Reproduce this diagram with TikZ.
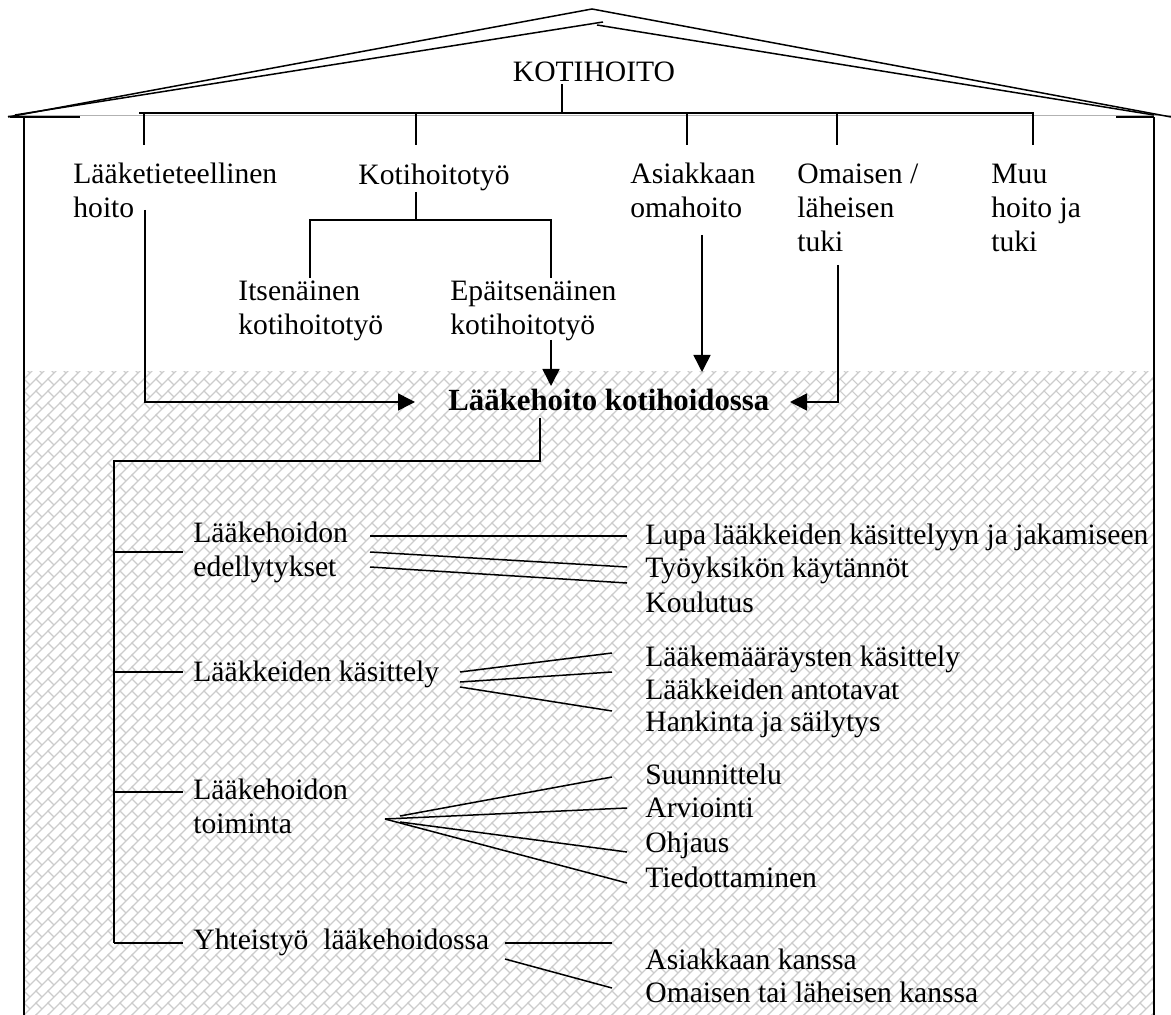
\documentclass[tikz,border=0pt]{standalone}
\usepackage{fontspec}
\setmainfont{Liberation Serif}
\usetikzlibrary{arrows.meta,calc,patterns}
\pgfdeclarepatternformonly{diagbrick}{\pgfqpoint{-0.5pt}{-0.5pt}}{\pgfqpoint{6.5pt}{6.5pt}}{\pgfqpoint{6pt}{6pt}}{%
\pgfsetlinewidth{0.55pt}
\pgfpathmoveto{\pgfqpoint{-0.5pt}{-0.5pt}}\pgfpathlineto{\pgfqpoint{6.5pt}{6.5pt}}
\pgfpathmoveto{\pgfqpoint{3pt}{3pt}}\pgfpathlineto{\pgfqpoint{0pt}{6pt}}
\pgfusepath{stroke}}
\tikzset{>=Triangle,ln/.style={line width=0.75pt},arr/.style={-{Triangle[length=8.5pt,width=8.5pt]},line width=0.75pt},lbl/.style={anchor=west,inner sep=0pt,align=left,font=\fontsize{14.8pt}{17pt}\selectfont},one/.style={anchor=base west,inner sep=0pt,font=\fontsize{14.8pt}{17pt}\selectfont},roof/.style={line width=0.75pt}}

\begin{document}
\begin{tikzpicture}[x=0.5pt,y=-0.5pt]
\useasboundingbox (0,0) rectangle (1171,1015);
% hatched floor
\fill[pattern=diagbrick,pattern color=gray!40] (24,372) rectangle (1154,1015);
% roof and walls
\draw[gray!60,line width=0.5pt] (8,116) -- (1171,116);
\draw[roof] (8,117) -- (592,9) -- (1171,117);
\draw[roof] (15,115) -- (603,22);
\draw[roof] (597,25) -- (1154,115);
\draw[roof] (10,117) -- (80,117);
\draw[roof] (1116,117) -- (1154,117);
\draw[roof] (24,117) -- (24,1015);
\draw[roof] (1154,117) -- (1154,1015);

% top level
\node[one,anchor=base] (kh) at (594,82) {KOTIHOITO};
\node[lbl] (laak) at (73,190) {Lääketieteellinen\\hoito};
\node[one] (koti) at (358,185) {Kotihoitotyö};
\node[lbl] (asia) at (630,190) {Asiakkaan\\omahoito};
\node[lbl] (omai) at (797,208) {Omaisen /\\läheisen\\tuki};
\node[lbl] (muu) at (991,208) {Muu\\hoito ja\\tuki};
\node[lbl] (its) at (238,311) {Itsenäinen\\kotihoitotyö};
\node[lbl] (epa) at (450,311) {Epäitsenäinen\\kotihoitotyö};
\node[one,font=\fontsize{15.4pt}{17pt}\selectfont\bfseries] (lkh) at (448,411) {Lääkehoito kotihoidossa};

\coordinate (stem) at (562,113);
\coordinate (barw) at (139,113);
\coordinate (bare) at (1034,113);
\draw[ln] (562,84) -- (stem);
\draw[ln] (barw) -- (bare);
\foreach \x in {144,416,687,837,1033} \draw[ln] (\x,113) -- (\x,145);

\coordinate (kbr) at (416,220);
\coordinate (itsin) at (310,278);
\coordinate (epain) at (551,278);
\draw[ln] (416,192) -- (kbr);
\draw[ln] (itsin) |- (kbr) -| (epain);

% arrows into the medication care
\coordinate (hoitoA) at (145,210);
\coordinate (hoitoB) at (415,402);
\coordinate (epaA) at (551,340);
\coordinate (epaB) at (551,386);
\coordinate (asiaA) at (702,235);
\coordinate (asiaB) at (702,372);
\coordinate (omaiA) at (838,265);
\coordinate (omaiB) at (790,402);
\draw[arr] (hoitoA) |- (hoitoB);
\draw[arr] (epaA) -- (epaB);
\draw[arr] (asiaA) -- (asiaB);
\draw[arr] (omaiA) |- (omaiB);

% lower level
\node[lbl] (edel) at (193,552) {Lääkehoidon\\edellytykset};
\node[one] (kasit) at (193,681) {Lääkkeiden käsittely};
\node[lbl] (toim) at (193,806) {Lääkehoidon\\toiminta};
\node[one] (yht) at (193,949) {Yhteistyö\ \ lääkehoidossa};

\node[one] (lupa) at (645,544) {Lupa lääkkeiden käsittelyyn ja jakamiseen};
\node[one] (tyo) at (645,577) {Työyksikön käytännöt};
\node[one] (koul) at (645,612) {Koulutus};
\node[one] (maar) at (645,666) {Lääkemääräysten käsittely};
\node[one] (anto) at (645,699) {Lääkkeiden antotavat};
\node[one] (hank) at (645,731) {Hankinta ja säilytys};
\node[one] (suun) at (645,784) {Suunnittelu};
\node[one] (arvi) at (645,817) {Arviointi};
\node[one] (ohja) at (645,852) {Ohjaus};
\node[one] (tied) at (645,887) {Tiedottaminen};
\node[one] (akan) at (645,969) {Asiakkaan kanssa};
\node[one] (omkan) at (645,1002) {Omaisen tai läheisen kanssa};

\coordinate (brk) at (114,461);
\draw[ln] (540,418) |- (brk) -- (114,943);
\foreach \n/\y in {edel/552,kasit/672,toim/792,yht/943} \draw[ln] (brk |- 0,\y) -- (183,\y);

\draw[ln] (370,536) -- (627,536);
\draw[ln] (370,552) -- (627,567);
\draw[ln] (370,567) -- (627,583);

\draw[ln] (460,672) -- (612,653);
\draw[ln] (460,682) -- (612,672);
\draw[ln] (460,687) -- (612,711);

\draw[ln] (400,816) -- (612,777);
\draw[ln] (385,819) -- (627,808);
\draw[ln] (400,822) -- (627,852);
\draw[ln] (385,819) -- (627,883);

\draw[ln] (505,943) -- (612,943);
\draw[ln] (505,959) -- (612,988);
\end{tikzpicture}
\end{document}
